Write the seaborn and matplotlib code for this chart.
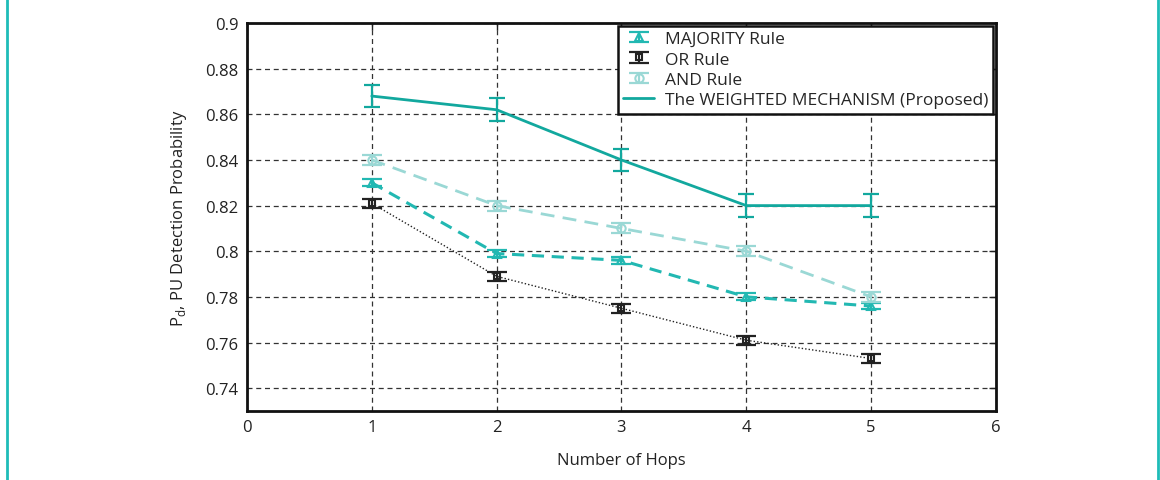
import matplotlib
matplotlib.use("Agg")
import matplotlib.pyplot as plt
from matplotlib.lines import Line2D
from matplotlib.legend_handler import HandlerTuple, HandlerErrorbar
from matplotlib.container import ErrorbarContainer
import seaborn as sns
import pandas as pd

hops = [1, 2, 3, 4, 5]

majority = [0.830, 0.799, 0.796, 0.780, 0.776]
majority_err = [0.0015, 0.0015, 0.0015, 0.0015, 0.0015]

or_rule = [0.821, 0.789, 0.775, 0.761, 0.753]
or_err = [0.002, 0.002, 0.002, 0.002, 0.002]

and_rule = [0.840, 0.820, 0.810, 0.800, 0.780]
and_err = [0.0022, 0.0022, 0.0022, 0.0022, 0.0022]

weighted = [0.868, 0.862, 0.840, 0.820, 0.820]
weighted_err = [0.005, 0.005, 0.005, 0.005, 0.005]

labels = ["MAJORITY Rule", "OR Rule", "AND Rule", "The WEIGHTED MECHANISM (Proposed)"]

sns.set_style("white")
plt.rcParams["font.family"] = ["Open Sans", "DejaVu Sans"]
plt.rcParams["mathtext.fontset"] = "custom"
plt.rcParams["mathtext.rm"] = "Open Sans"

fig = plt.figure(figsize=(11.6, 4.81), dpi=100)
ax = fig.add_axes([0.2129, 0.1435, 0.6457, 0.8065])

series = [
    dict(y=majority, e=majority_err, color="#22b8b2", ls=(0, (4, 2.5)), lw=2.2,
         marker="^", ms=6, cap=7),
    dict(y=or_rule, e=or_err, color="#222222", ls=(0, (1, 1.5)), lw=1.0,
         marker="s", ms=4, cap=7),
    dict(y=and_rule, e=and_err, color="#9ad8d5", ls=(0, (5, 3)), lw=2.0,
         marker="o", ms=6, cap=7),
    dict(y=weighted, e=weighted_err, color="#12a89e", ls="-", lw=2.0,
         marker=None, ms=0, cap=6),
]

handles = []
for s, lab in zip(series, labels):
    df = pd.DataFrame({"hops": hops, "pd": s["y"]})
    sns.lineplot(data=df, x="hops", y="pd", ax=ax, color=s["color"],
                 linestyle=s["ls"], linewidth=s["lw"], marker=s["marker"],
                 markersize=s["ms"], markerfacecolor="none",
                 markeredgecolor=s["color"], markeredgewidth=1.5,
                 legend=False, zorder=3)
    eb = ax.errorbar(hops, s["y"], yerr=s["e"], fmt="none", ecolor=s["color"],
                     elinewidth=1.6, capsize=s["cap"], capthick=1.6, zorder=4)
    proxy = Line2D([], [], color=s["color"], linestyle="-" if s["marker"] is None else "none",
                   linewidth=s["lw"], marker=s["marker"], markersize=s["ms"],
                   markerfacecolor="none", markeredgecolor=s["color"],
                   markeredgewidth=1.5)
    if s["marker"] is None:
        handles.append(proxy)
    else:
        handles.append((eb, proxy))

ax.set_xlim(0, 6)
ax.set_ylim(0.73, 0.9)
ax.set_xticks([0, 1, 2, 3, 4, 5, 6])
ax.set_yticks([0.74, 0.76, 0.78, 0.80, 0.82, 0.84, 0.86, 0.88, 0.90])
ax.set_yticklabels(["0.74", "0.76", "0.78", "0.8", "0.82", "0.84", "0.86", "0.88", "0.9"])
ax.tick_params(direction="in", length=5, width=1, top=True, right=True,
               labelsize=12, colors="#222222", pad=6)
ax.grid(True, color="#333333", linestyle=(0, (4, 3)), linewidth=0.9)
for sp in ax.spines.values():
    sp.set_color("#111111")
    sp.set_linewidth(2)

ax.set_xlabel("Number of Hops", fontsize=12, color="#222222", labelpad=12)
ax.set_ylabel(r"P$_\mathregular{d}$, PU Detection Probability", fontsize=12,
              color="#222222", labelpad=12)

leg = ax.legend(handles, labels, loc="upper right", fontsize=12.5,
                handler_map={tuple: HandlerTuple(ndivide=1, pad=0),
                             ErrorbarContainer: HandlerErrorbar(xerr_size=0, yerr_size=0.3)},
                frameon=True, fancybox=False, borderaxespad=0.15,
                handlelength=1.8, handletextpad=0.6, labelspacing=0.25,
                borderpad=0.3)
leg.get_frame().set_edgecolor("#111111")
leg.get_frame().set_linewidth(1.8)
leg.get_frame().set_alpha(1)

# thin teal rules at the left and right edges of the figure
for xf in (6.5 / 1160, 1157.5 / 1160):
    fig.add_artist(Line2D([xf, xf], [0, 1], transform=fig.transFigure,
                          color="#1ebcb8", linewidth=2))

fig.savefig("out.png", dpi=100)
